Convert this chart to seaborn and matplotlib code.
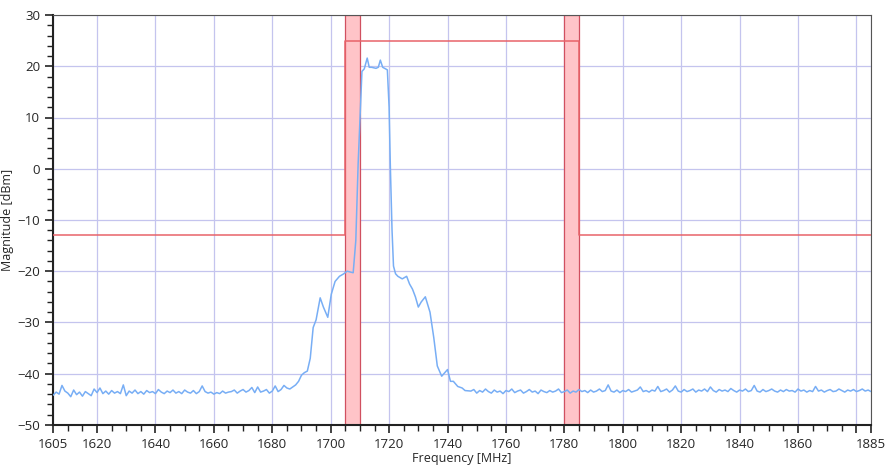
import matplotlib
import numpy as np
import seaborn as sns

matplotlib.use("Agg")
import matplotlib.pyplot as plt
from matplotlib.ticker import MultipleLocator

# Noise floor, 1 MHz steps
left_floor = [
    -44.2, -43.6, -44.0, -42.3, -43.4, -43.8, -44.5, -43.2, -44.1, -43.6,
    -44.4, -43.5, -43.9, -44.3, -43.0, -43.7, -42.8, -43.9, -43.4, -44.0,
    -43.3, -43.8, -43.5, -43.9, -42.2, -44.3, -43.4, -43.8, -43.2, -43.9,
    -43.5, -44.0, -43.3, -43.7, -43.5, -43.9, -43.1, -43.6, -43.9, -43.4,
    -43.7, -43.2, -43.8, -43.5, -43.9, -43.2, -43.6, -43.8, -43.3, -43.9,
    -43.5, -42.4, -43.5, -43.8, -43.6, -44.0, -43.7, -43.9, -43.4, -43.8,
    -43.6, -43.5, -43.2, -43.8, -43.4, -43.1, -43.6, -43.3, -42.7, -43.7,
    -42.6, -43.6, -43.4, -43.1, -43.8, -43.4, -42.4, -43.5, -43.1, -42.3,
    -42.8, -43.0, -42.6, -42.2, -41.5, -40.3,
]
signal_freq = [1691, 1692, 1693, 1694, 1695, 1696.4, 1697.5, 1699, 1700.2, 1701.5,
               1703, 1704.5, 1705.6, 1707.7, 1708.6, 1709.4, 1710.2, 1710.7, 1711.5,
               1712.5, 1713.2, 1714, 1715.5, 1716.3, 1717, 1717.8, 1719.4, 1720.0,
               1720.4, 1721.0, 1721.5, 1722.2, 1723, 1724.5, 1726, 1727, 1728, 1729,
               1730, 1731, 1732.4, 1733.2, 1734, 1735.3, 1736.5, 1738, 1740, 1741,
               1742, 1743.5, 1745, 1746]
signal_level = [-39.8, -39.5, -37.0, -31.0, -29.5, -25.2, -27.0, -29.0, -24.5, -22.0,
                -21.0, -20.5, -20.0, -20.3, -14.0, 1.0, 12.0, 19.0, 19.5,
                21.6, 19.8, 19.8, 19.6, 19.8, 21.2, 19.8, 19.3, 12.0,
                1.0, -12.0, -19.0, -20.5, -21.0, -21.5, -21.0, -22.5, -23.5, -25.0,
                -27.0, -26.0, -25.0, -26.5, -28.0, -33.0, -38.5, -40.5, -39.2, -41.5,
                -41.5, -42.5, -42.8, -43.3]
right_floor = [
    -43.4, -43.1, -43.8, -43.3, -43.6, -43.0, -43.5, -43.8, -43.2, -43.6,
    -43.4, -43.9, -43.3, -43.5, -43.0, -43.7, -43.4, -43.2, -43.8, -43.5,
    -43.1, -43.6, -43.4, -43.9, -43.2, -43.5, -43.7, -43.3, -43.6, -43.4,
    -43.0, -43.7, -43.5, -43.2, -43.8, -43.4, -43.6, -43.1, -43.5, -43.3,
    -43.7, -43.2, -43.6, -43.4, -43.0, -43.5, -43.3, -42.2, -43.4, -43.6,
    -43.2, -43.7, -43.3, -43.5, -43.1, -43.6, -43.4, -43.2, -42.6, -43.5,
    -43.3, -43.6, -43.2, -43.4, -42.5, -43.5, -43.3, -43.0, -43.6, -43.2,
    -42.4, -43.4, -43.6, -43.1, -43.5, -43.3, -43.0, -43.6, -43.2, -43.4,
    -43.0, -43.5, -42.6, -43.3, -43.6, -43.1, -43.4, -43.2, -43.5, -42.9,
    -43.3, -43.6, -43.2, -43.4, -43.0, -43.5, -43.3, -42.3, -43.4, -43.6,
    -43.1, -43.5, -43.3, -43.0, -43.4, -43.6, -43.2, -43.5, -43.1, -43.4,
    -43.3, -43.6, -43.0, -43.4, -43.2, -43.6, -43.3, -43.5, -42.5, -43.4,
    -43.2, -43.6, -43.3, -43.1, -43.5, -43.4, -43.0, -43.3, -43.6, -43.2,
    -43.4, -43.1, -43.5, -43.3, -43.0, -43.4, -43.2, -43.5,
]

freq = list(range(1605, 1605 + len(left_floor))) + signal_freq + \
    list(range(1748, 1748 + len(right_floor)))
level = left_floor + signal_level + right_floor

# Spectrum emission mask
mask_freq = [1605, 1705, 1705, 1785, 1785, 1885]
mask_level = [-13, -13, 25, 25, -13, -13]
bands = [(1705, 1710), (1780, 1785)]

x_ticks = [1605] + list(range(1620, 1881, 20)) + [1885]
x_labels = [str(t) if t != 1880 else "" for t in x_ticks]

sns.set_style("white")
plt.rcParams["font.family"] = ["Open Sans", "DejaVu Sans"]

fig, ax = plt.subplots(figsize=(8.87, 4.70), dpi=100)
fig.subplots_adjust(left=0.06, right=0.982, top=0.968, bottom=0.096)

for lo, hi in bands:
    ax.axvspan(lo, hi, facecolor="#ffc4c8", edgecolor="#d05060", lw=0.9, zorder=1)

sns.lineplot(x=freq, y=level, ax=ax, color="#78aef5", lw=1.1, zorder=3)
ax.plot(mask_freq, mask_level, color="#e8636a", lw=1.1, zorder=4)

ax.set_xlim(1605, 1885)
ax.set_ylim(-50, 30)
ax.set_xticks(x_ticks)
ax.set_xticklabels(x_labels)
ax.xaxis.set_minor_locator(MultipleLocator(5))
ax.yaxis.set_major_locator(MultipleLocator(10))
ax.yaxis.set_minor_locator(MultipleLocator(2))
ax.grid(True, which="major", color="#c4c4ee", lw=0.9, zorder=0)
ax.set_axisbelow(True)
ax.tick_params(which="major", direction="out", length=6, width=1.2, labelsize=9.5, color="#222")
ax.tick_params(which="minor", direction="out", length=4, width=1.0, color="#222")
ax.tick_params(axis="x", bottom=True, which="both")
ax.tick_params(axis="y", left=True, which="both")
for side in ["left", "bottom"]:
    ax.spines[side].set_color("#222")
    ax.spines[side].set_linewidth(1.5)
for side in ["top", "right"]:
    ax.spines[side].set_color("#555")
    ax.spines[side].set_linewidth(0.8)

ax.set_xlabel("Frequency [MHz]", fontsize=9, labelpad=1)
ax.set_ylabel("Magnitude [dBm]", fontsize=9, labelpad=2)

fig.savefig("out.png", dpi=100)
